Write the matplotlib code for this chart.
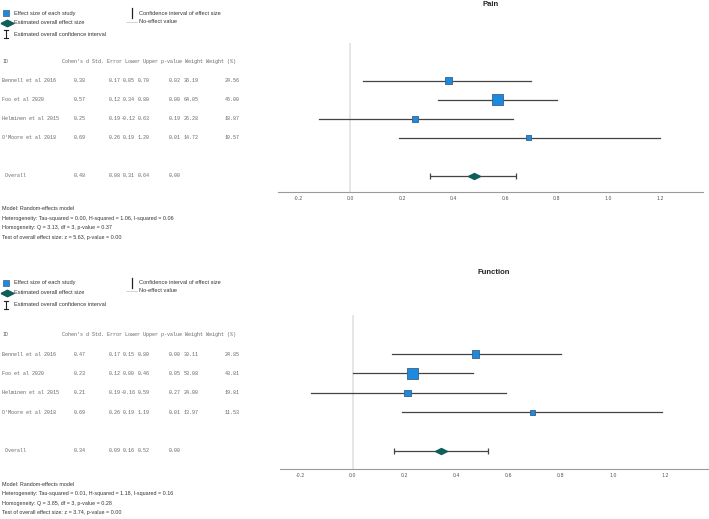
import matplotlib
matplotlib.use("Agg")
import matplotlib.pyplot as plt
import numpy as np

W, H = 709, 519

studies = ["Bennell et al 2016", "Foo et al 2020", "Helminen et al 2015", "O'Moore et al 2018"]

# Pain
pain_d = [0.38, 0.57, 0.25, 0.69]
pain_se = [0.17, 0.12, 0.19, 0.26]
pain_lo = [0.05, 0.34, -0.12, 0.19]
pain_hi = [0.70, 0.80, 0.63, 1.20]
pain_p = [0.02, 0.00, 0.19, 0.01]
pain_w = [36.19, 64.05, 26.28, 14.72]
pain_wp = [24.56, 46.00, 18.87, 10.57]
pain_overall = [0.48, 0.08, 0.31, 0.64, 0.00]
pain_stats = ["Model: Random-effects model",
              "Heterogeneity: Tau-squared = 0.00, H-squared = 1.06, I-squared = 0.06",
              "Homogeneity: Q = 3.13, df = 3, p-value = 0.37",
              "Test of overall effect size: z = 5.63, p-value = 0.00"]

# Function
func_d = [0.47, 0.23, 0.21, 0.69]
func_se = [0.17, 0.12, 0.19, 0.26]
func_lo = [0.15, 0.00, -0.16, 0.19]
func_hi = [0.80, 0.46, 0.59, 1.19]
func_p = [0.00, 0.05, 0.27, 0.01]
func_w = [30.11, 53.08, 24.00, 13.97]
func_wp = [24.85, 43.81, 19.81, 11.53]
func_overall = [0.34, 0.09, 0.16, 0.52, 0.00]
func_stats = ["Model: Random-effects model",
              "Heterogeneity: Tau-squared = 0.01, H-squared = 1.18, I-squared = 0.16",
              "Homogeneity: Q = 3.85, df = 3, p-value = 0.28",
              "Test of overall effect size: z = 3.74, p-value = 0.00"]

xticks = [-0.2, 0.0, 0.2, 0.4, 0.6, 0.8, 1.0, 1.2]

fig = plt.figure(figsize=(W / 100, H / 100), dpi=100)
ov = fig.add_axes([0, 0, 1, 1])
ov.set_xlim(0, W)
ov.set_ylim(H, 0)
ov.set_axis_off()

SQ_FACE = "#1a8be0"
SQ_EDGE = "#3d5f80"
DIA = "#0e5f5c"
LINE = "#444444"
TXT = "#333333"
TAB = "#666666"
SANS = "Liberation Sans"
MONO = "Liberation Mono"
diamond = [(-1, 0), (0, 0.5), (1, 0), (0, -0.5), (-1, 0)]


def panel(title, title_y, leg_y, box, row0, drow, d, se, lo, hi, p, w, wp, overall, stats, stats_y):
    l, r, t, b = box
    ax = fig.add_axes([l / W, 1 - b / H, (r - l) / W, (b - t) / H])
    ymin = (t - row0) / drow
    ymax = (b - row0) / drow
    ax.set_ylim(ymax, ymin)
    ax.set_xlim(-0.28, 1.365)
    ax.axvline(0, color="#e4e4e4", lw=1.3, zorder=0)
    ys = np.arange(len(d))
    for i in range(len(d)):
        ax.plot([lo[i], hi[i]], [ys[i], ys[i]], color=LINE, lw=0.9, zorder=2)
    sides_px = [2.8 + 0.178 * v for v in wp]
    sizes = [(s * 0.72) ** 2 for s in sides_px]
    ax.scatter(d, ys, s=sizes, marker="s", facecolor=SQ_FACE, edgecolor=SQ_EDGE, lw=0.6, zorder=3)
    oy = len(d) + 1
    ax.errorbar([overall[0]], [oy], xerr=[[overall[0] - overall[2]], [overall[3] - overall[0]]],
                fmt="none", ecolor=LINE, elinewidth=0.9, capsize=2.2, capthick=0.9, zorder=2)
    ax.scatter([overall[0]], [oy], s=(12 * 0.72) ** 2, marker=diamond, color=DIA, zorder=3)
    for sp in ["top", "left", "right"]:
        ax.spines[sp].set_visible(False)
    ax.spines["bottom"].set_color("#9a9a9a")
    ax.spines["bottom"].set_linewidth(0.8)
    ax.set_yticks([])
    ax.set_xticks(xticks)
    ax.set_xticklabels([f"{v:.1f}" for v in xticks])
    ax.tick_params(axis="x", length=0, pad=3, labelsize=3.4, labelcolor="#555555")
    ax.patch.set_alpha(0)

    ov.text((l + r) / 2, title_y, title, fontsize=5.5, fontweight="bold", family=SANS,
            color="#222222", ha="center", va="center")

    # legend glyphs
    y1, y2, y3 = leg_y
    lkw = dict(fontsize=4.1, family=SANS, color=TXT, va="center")
    ov.scatter([6], [y1], s=(6 * 0.72) ** 2, marker="s", facecolor=SQ_FACE, edgecolor=SQ_EDGE, lw=0.5)
    ov.text(14, y1, "Effect size of each study", **lkw)
    ov.scatter([6.5], [y2], s=(13 * 0.72) ** 2, marker=diamond, color=DIA)
    ov.text(14, y2, "Estimated overall effect size", **lkw)
    ov.plot([6, 6], [y3 - 4, y3 + 4], color="#222222", lw=0.8)
    ov.plot([4, 8], [y3 - 4, y3 - 4], color="#222222", lw=0.8)
    ov.plot([4, 8], [y3 + 4, y3 + 4], color="#222222", lw=0.8)
    ov.text(14, y3, "Estimated overall confidence interval", **lkw)
    ov.plot([132, 132], [y1 - 5, y1 + 5], color="#222222", lw=0.9)
    ov.text(139, y1, "Confidence interval of effect size", **lkw)
    ov.plot([126, 137], [y1 + 8.5, y1 + 8.5], color="#cccccc", lw=0.6)
    ov.text(139, y1 + 8, "No-effect value", **lkw)

    # table
    hy = row0 - drow
    kw = dict(fontsize=3.6, family=MONO, color=TAB, va="center")
    ov.text(3, hy, "ID", **kw)
    ov.text(62, hy, "Cohen's d Std. Error Lower Upper p-value Weight Weight (%)", **kw)
    cols = [86, 121, 135, 150, 181, 199, 240]
    for i in range(len(d)):
        y = row0 + drow * i
        ov.text(2, y, studies[i], **kw)
        vals = [d[i], se[i], lo[i], hi[i], p[i], w[i], wp[i]]
        for c, v in zip(cols, vals):
            ov.text(c, y, f"{v:.2f}", ha="right", **kw)
    y = row0 + drow * (len(d) + 1)
    ov.text(2, y, " Overall", **kw)
    for c, v in zip(cols[:5], overall):
        ov.text(c, y, f"{v:.2f}", ha="right", **kw)

    for k, s in enumerate(stats):
        ov.text(2, stats_y + 9.5 * k, s, fontsize=3.85, family=SANS, color=TXT, va="center")


panel("Pain", 5, (13.3, 22.7, 34), (278, 703, 43, 192), 80.7, 19.0,
      pain_d, pain_se, pain_lo, pain_hi, pain_p, pain_w, pain_wp, pain_overall, pain_stats, 209)
panel("Function", 273, (282.7, 292.7, 305), (280, 708, 315, 469), 354, 19.4,
      func_d, func_se, func_lo, func_hi, func_p, func_w, func_wp, func_overall, func_stats, 484)

fig.savefig("out.png", dpi=100)
